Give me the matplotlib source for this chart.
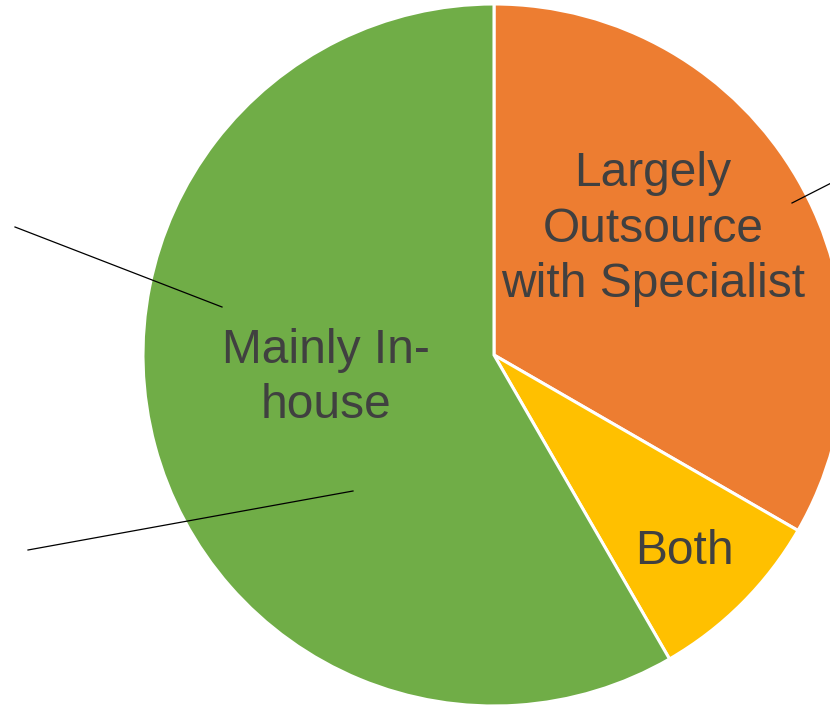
import matplotlib.pyplot as plt

# slice data (clockwise from 12 o'clock)
labels = ["Largely\nOutsource\nwith Specialist", "Both", "Mainly In-\nhouse"]
values = [4, 1, 7]
colors = ["#ED7D31", "#FFC000", "#70AD47"]

W, H = 830, 705
CX, CY, R = 494, 355, 351


def px(x, y):
    "pixel position (origin top-left) to data coords, pie radius = 1"
    return (x - CX) / R, (CY - y) / R


fig = plt.figure(figsize=(W / 100, H / 100), dpi=100)
ax = fig.add_axes([0, 0, 1, 1])

ax.pie(values, colors=colors, startangle=90, counterclock=False,
       radius=1.0, wedgeprops=dict(edgecolor="white", linewidth=2.2))

# leader lines left over from outside labels
leaders = [((15, 227), (222, 307)),
           ((28, 550), (353, 491)),
           ((792, 203), (845, 176))]
for p0, p1 in leaders:
    x0, y0 = px(*p0)
    x1, y1 = px(*p1)
    ax.plot([x0, x1], [y0, y1], color="black", lw=0.9)

label_pos = [(653, 229), (684, 551), (326, 378)]
for text, pos in zip(labels, label_pos):
    x, y = px(*pos)
    ax.text(x, y, text, ha="center", va="center", fontsize=34.5,
            color="#404040", family="Liberation Sans", linespacing=1.3)

xmin, ymax = px(0, 0)
xmax, ymin = px(W, H)
ax.set_xlim(xmin, xmax)
ax.set_ylim(ymin, ymax)
ax.set_aspect("auto")
ax.axis("off")

fig.savefig("out.png", dpi=100)
